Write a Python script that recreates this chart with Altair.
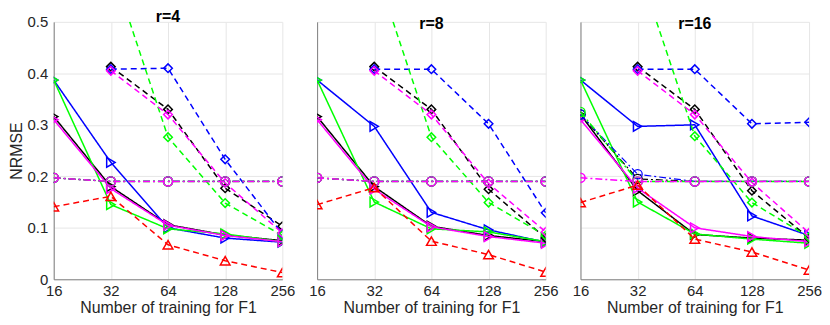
import altair as alt
import pandas as pd

# ---------------- data ----------------
xs = [16, 32, 64, 128, 256]
panels = [4, 8, 16]

# r = 4
r4_solid_black = [0.316, 0.180, 0.106, 0.086, 0.075]
r4_solid_blue = [0.387, 0.227, 0.100, 0.080, 0.072]
r4_solid_green = [0.387, 0.145, 0.098, 0.088, 0.073]
r4_solid_magenta = [0.310, 0.176, 0.105, 0.085, 0.073]
r4_dashed_black = [None, 0.413, 0.330, 0.177, 0.103]
r4_dashed_blue = [None, 0.408, 0.410, 0.233, 0.088]
r4_dashed_green = [None, 0.610, 0.276, 0.148, 0.085]
r4_dashed_magenta = [None, 0.405, 0.320, 0.187, 0.090]
r4_dashdot_black = [0.197, 0.190, 0.190, 0.190, 0.190]
r4_dashdot_blue = [0.197, 0.190, 0.190, 0.190, 0.190]
r4_dashdot_green = [0.197, 0.190, 0.190, 0.190, 0.190]
r4_dashdot_magenta = [0.197, 0.190, 0.190, 0.190, 0.190]
r4_red = [0.141, 0.161, 0.067, 0.036, 0.013]

# r = 8
r8_solid_black = [0.316, 0.180, 0.103, 0.085, 0.073]
r8_solid_blue = [0.387, 0.297, 0.130, 0.096, 0.072]
r8_solid_green = [0.387, 0.150, 0.098, 0.092, 0.073]
r8_solid_magenta = [0.310, 0.175, 0.102, 0.083, 0.070]
r8_dashed_black = [None, 0.413, 0.330, 0.175, 0.080]
r8_dashed_blue = [None, 0.408, 0.408, 0.302, 0.129]
r8_dashed_green = [None, 0.610, 0.276, 0.149, 0.085]
r8_dashed_magenta = [None, 0.405, 0.320, 0.186, 0.092]
r8_dashdot_black = [0.197, 0.190, 0.190, 0.190, 0.190]
r8_dashdot_blue = [0.197, 0.190, 0.190, 0.190, 0.190]
r8_dashdot_green = [0.197, 0.190, 0.190, 0.190, 0.190]
r8_dashdot_magenta = [0.197, 0.190, 0.190, 0.190, 0.190]
r8_red = [0.145, 0.178, 0.074, 0.048, 0.014]

# r = 16
r16_solid_black = [0.320, 0.172, 0.087, 0.080, 0.076]
r16_solid_blue = [0.387, 0.297, 0.300, 0.123, 0.085]
r16_solid_green = [0.387, 0.150, 0.088, 0.078, 0.070]
r16_solid_magenta = [0.310, 0.177, 0.100, 0.083, 0.073]
r16_dashed_black = [None, 0.413, 0.330, 0.172, 0.080]
r16_dashed_blue = [None, 0.408, 0.408, 0.302, 0.305]
r16_dashed_green = [None, 0.610, 0.278, 0.149, 0.082]
r16_dashed_magenta = [None, 0.405, 0.320, 0.188, 0.090]
r16_dashdot_black = [0.320, 0.195, 0.190, 0.190, 0.190]
r16_dashdot_blue = [0.320, 0.204, 0.190, 0.190, 0.190]
r16_dashdot_green = [0.325, 0.190, 0.190, 0.190, 0.190]
r16_dashdot_magenta = [0.197, 0.190, 0.190, 0.190, 0.190]
r16_red = [0.149, 0.183, 0.078, 0.053, 0.018]

series_by_panel = {
    4: {
        "solid_black": r4_solid_black, "solid_blue": r4_solid_blue,
        "solid_green": r4_solid_green, "solid_magenta": r4_solid_magenta,
        "dashed_black": r4_dashed_black, "dashed_blue": r4_dashed_blue,
        "dashed_green": r4_dashed_green, "dashed_magenta": r4_dashed_magenta,
        "dashdot_black": r4_dashdot_black, "dashdot_blue": r4_dashdot_blue,
        "dashdot_green": r4_dashdot_green, "dashdot_magenta": r4_dashdot_magenta,
        "red": r4_red,
    },
    8: {
        "solid_black": r8_solid_black, "solid_blue": r8_solid_blue,
        "solid_green": r8_solid_green, "solid_magenta": r8_solid_magenta,
        "dashed_black": r8_dashed_black, "dashed_blue": r8_dashed_blue,
        "dashed_green": r8_dashed_green, "dashed_magenta": r8_dashed_magenta,
        "dashdot_black": r8_dashdot_black, "dashdot_blue": r8_dashdot_blue,
        "dashdot_green": r8_dashdot_green, "dashdot_magenta": r8_dashdot_magenta,
        "red": r8_red,
    },
    16: {
        "solid_black": r16_solid_black, "solid_blue": r16_solid_blue,
        "solid_green": r16_solid_green, "solid_magenta": r16_solid_magenta,
        "dashed_black": r16_dashed_black, "dashed_blue": r16_dashed_blue,
        "dashed_green": r16_dashed_green, "dashed_magenta": r16_dashed_magenta,
        "dashdot_black": r16_dashdot_black, "dashdot_blue": r16_dashdot_blue,
        "dashdot_green": r16_dashdot_green, "dashdot_magenta": r16_dashdot_magenta,
        "red": r16_red,
    },
}

# ---------------- styles ----------------
COLORS = {"black": "#000000", "blue": "#0000ff", "green": "#00ff00",
          "magenta": "#ff00ff", "red": "#ff0000"}
DASH = {"solid": [1, 0], "dashed": [6, 4], "dashdot": [7, 3, 2, 3], "red": [6, 4]}
SHAPE = {"solid": "triangle-right", "dashed": "diamond", "dashdot": "circle",
         "red": "triangle-up"}
SIZE = {"solid": 95, "dashed": 75, "dashdot": 85, "red": 95}

draw_order = []
for style in ["solid", "dashed", "dashdot"]:
    for col in ["black", "blue", "green", "magenta"]:
        draw_order.append((f"{style}_{col}", style, col))
draw_order.append(("red", "red", "red"))

FONT = "Liberation Sans"
xscale = alt.Scale(type="log", base=2, domain=[16, 256], nice=False)
yscale = alt.Scale(domain=[0, 0.5], nice=False)


def make_panel(r, first):
    xaxis = alt.Axis(values=xs, title="Number of training for F1", format="d",
                     grid=True, gridColor="#e6e6e6", domainColor="#808080",
                     ticks=False, labelFontSize=15, titleFontSize=16,
                     labelFont=FONT, titleFont=FONT, titleFontWeight="normal",
                     labelColor="#262626", titleColor="#262626",
                     labelPadding=4, titlePadding=1, labelFlush=False)
    if first:
        yaxis = alt.Axis(values=[0, 0.1, 0.2, 0.3, 0.4, 0.5], format=".1~f",
                         title="NRMSE", grid=True, gridColor="#e6e6e6",
                         domainColor="#808080", ticks=False, labelFontSize=15,
                         titleFontSize=16, labelFont=FONT, titleFont=FONT,
                         titleFontWeight="normal", labelColor="#262626",
                         titleColor="#262626", labelPadding=6, titlePadding=3)
    else:
        yaxis = alt.Axis(values=[0, 0.1, 0.2, 0.3, 0.4, 0.5], labels=False,
                         title=None, grid=True, gridColor="#e6e6e6",
                         domainColor="#808080", ticks=False)
    layers = []
    data = series_by_panel[r]
    for key, style, col in draw_order:
        df = pd.DataFrame({"x": xs, "y": data[key]}).dropna()
        base = alt.Chart(df)
        sw = 1.2 if (style == "dashdot" and col in ("black", "blue")) else 1.5
        enc = dict(x=alt.X("x:Q", scale=xscale, axis=xaxis),
                   y=alt.Y("y:Q", scale=yscale, axis=yaxis))
        layers.append(base.mark_line(color=COLORS[col], strokeDash=DASH[style],
                                     strokeWidth=sw, clip=True).encode(**enc))
        layers.append(base.mark_point(shape=SHAPE[style], color=COLORS[col],
                                      filled=False, size=SIZE[style],
                                      strokeWidth=sw, opacity=1,
                                      clip=True).encode(**enc))
    return alt.layer(*layers).properties(
        width=230, height=259,
        title=alt.TitleParams(f"r={r}", font=FONT, fontSize=16,
                              fontWeight="bold", color="#000000", offset=-10,
                              frame="group"),
    )


chart = alt.hconcat(
    make_panel(4, True), make_panel(8, False), make_panel(16, False),
    spacing=35, bounds="flush",
).properties(
    padding={"left": 0, "top": 0, "right": 0, "bottom": 0},
).configure_view(stroke=None)

chart.save("out.html", embed_options={"renderer": "svg", "actions": False})
